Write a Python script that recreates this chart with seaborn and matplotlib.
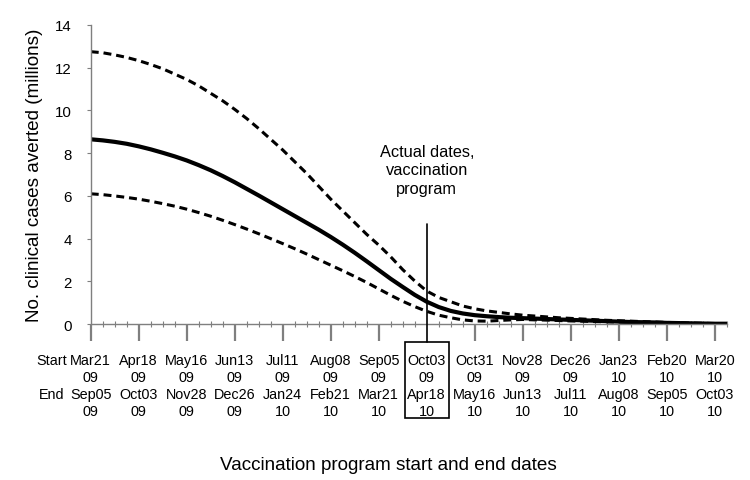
import pandas as pd
import matplotlib.pyplot as plt
import seaborn as sns
from matplotlib.ticker import MultipleLocator
from matplotlib.patches import Rectangle

# Weekly values (millions), week 0 = vaccination start Mar21 09
weeks = list(range(54))
median = [8.65, 8.60, 8.53, 8.44, 8.32, 8.18, 8.02, 7.85, 7.66, 7.44,
          7.20, 6.93, 6.64, 6.33, 6.02, 5.70, 5.38, 5.06, 4.74, 4.42,
          4.08, 3.72, 3.34, 2.94, 2.53, 2.12, 1.74, 1.37, 1.05, 0.80,
          0.62, 0.50, 0.42, 0.37, 0.33, 0.30, 0.28, 0.26, 0.24, 0.22,
          0.20, 0.18, 0.16, 0.14, 0.12, 0.10, 0.09, 0.08, 0.06, 0.05,
          0.04, 0.03, 0.02, 0.02]
upper = [12.75, 12.70, 12.60, 12.48, 12.33, 12.15, 11.95, 11.70, 11.45, 11.15,
         10.80, 10.45, 10.05, 9.62, 9.15, 8.65, 8.15, 7.60, 7.05, 6.45,
         5.85, 5.30, 4.75, 4.20, 3.70, 3.15, 2.55, 2.02, 1.55, 1.25,
         1.05, 0.85, 0.72, 0.62, 0.55, 0.48, 0.42, 0.38, 0.34, 0.30,
         0.27, 0.24, 0.21, 0.18, 0.16, 0.14, 0.12, 0.10, 0.08, 0.07,
         0.05, 0.04, 0.03, 0.02]
lower = [6.10, 6.06, 6.00, 5.93, 5.85, 5.75, 5.64, 5.52, 5.38, 5.22,
         5.05, 4.86, 4.66, 4.45, 4.23, 4.00, 3.77, 3.53, 3.28, 3.02,
         2.76, 2.50, 2.23, 1.95, 1.65, 1.35, 1.07, 0.82, 0.60, 0.42,
         0.30, 0.20, 0.15, 0.14, 0.17, 0.20, 0.22, 0.20, 0.19, 0.17,
         0.15, 0.14, 0.12, 0.11, 0.10, 0.08, 0.07, 0.06, 0.05, 0.04,
         0.03, 0.02, 0.01, 0.01]

start_dates = ['Mar21\n09', 'Apr18\n09', 'May16\n09', 'Jun13\n09', 'Jul11\n09',
               'Aug08\n09', 'Sep05\n09', 'Oct03\n09', 'Oct31\n09', 'Nov28\n09',
               'Dec26\n09', 'Jan23\n10', 'Feb20\n10', 'Mar20\n10']
end_dates = ['Sep05\n09', 'Oct03\n09', 'Nov28\n09', 'Dec26\n09', 'Jan24\n10',
             'Feb21\n10', 'Mar21\n10', 'Apr18\n10', 'May16\n10', 'Jun13\n10',
             'Jul11\n10', 'Aug08\n10', 'Sep05\n10', 'Oct03\n10']
actual_week = 28

df = pd.DataFrame({'week': weeks, 'median': median, 'upper': upper, 'lower': lower})

sns.set_style('white')
plt.rcParams['font.family'] = ['Liberation Sans', 'DejaVu Sans']
plt.rcParams['text.color'] = 'black'
plt.rcParams['axes.labelcolor'] = 'black'

fig = plt.figure(figsize=(7.5, 4.81), dpi=100)
ax = fig.add_axes([0.121, 0.324, 0.848, 0.622])

sns.lineplot(x='week', y='upper', data=df, ax=ax, color='black', lw=2.2)
sns.lineplot(x='week', y='lower', data=df, ax=ax, color='black', lw=2.2)
sns.lineplot(x='week', y='median', data=df, ax=ax, color='black', lw=3.0)
for ln in ax.lines[:2]:
    ln.set_dashes((2.6, 1.6))

ax.set_xlim(0, 53)
ax.set_ylim(0, 14)
ax.yaxis.set_major_locator(MultipleLocator(2))
ax.set_xticks(range(0, 53, 4))
ax.set_xticklabels([s + '\n' + e for s, e in zip(start_dates, end_dates)],
                   fontsize=10.4, linespacing=1.28)
ax.xaxis.set_minor_locator(MultipleLocator(1))

gray = '#7f7f7f'
for side in ['top', 'right']:
    ax.spines[side].set_visible(False)
for side in ['left', 'bottom']:
    ax.spines[side].set_color(gray)
    ax.spines[side].set_linewidth(1.0)
ax.tick_params(which='both', bottom=True, left=True, labelcolor='black')
ax.tick_params(axis='x', which='major', direction='out', length=12.5, width=1.6,
               color=gray, pad=8)
ax.tick_params(axis='x', which='minor', direction='inout', length=4, width=0.8,
               color=gray)
ax.tick_params(axis='y', which='major', direction='out', length=3, width=0.8,
               color=gray, pad=10.5, labelsize=10.8)
ax.xaxis.get_major_ticks()[actual_week // 4].tick1line.set_visible(False)

ax.set_xlabel('')
ax.set_ylabel('No. clinical cases averted (millions)', fontsize=13.6, labelpad=9)

# row labels for the two-line tick labels
ax.annotate('Start\n\nEnd\n', xy=(-3.25, 0), xycoords='data', xytext=(0, -20.5),
            textcoords='offset points', ha='center', va='top',
            fontsize=10.4, linespacing=1.28, annotation_clip=False)

# actual vaccination dates marker
ax.plot([actual_week, actual_week], [4.7, -0.84], color='black', lw=1.2,
        clip_on=False, zorder=5)
ax.add_patch(Rectangle((26.17, -4.4), 3.66, 3.56, fill=False, ec='black',
                       lw=1.2, clip_on=False))
ax.text(actual_week, 8.45, 'Actual dates,\nvaccination\nprogram', ha='center',
        va='top', fontsize=11.8, linespacing=1.3)

fig.text(388 / 750, 1 - 466 / 481, 'Vaccination program start and end dates',
         ha='center', va='center', fontsize=13.6)

fig.savefig('out.png', dpi=100)
